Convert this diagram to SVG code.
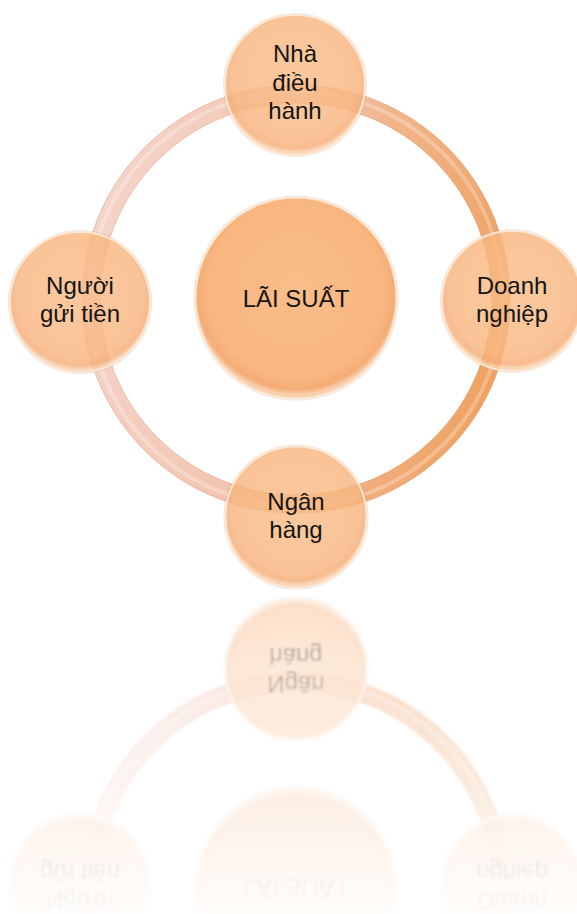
<svg xmlns="http://www.w3.org/2000/svg" xmlns:xlink="http://www.w3.org/1999/xlink" width="577" height="914" viewBox="0 0 577 914">
  <style>
    .lbl { font-family: "Liberation Sans", Arial, sans-serif; font-size: 24px; fill: #141414; text-anchor: middle; }
    .node { fill: url(#nodeFill); fill-opacity: 0.82; stroke: #fde6d0; stroke-width: 2; }
    .cnode { fill: url(#nodeFill); stroke: #fde6d0; stroke-width: 2; }
    .halo { fill: none; stroke: #b89a88; stroke-opacity: 0.22; stroke-width: 1.2; }
  </style>
  <defs>
    <radialGradient id="nodeFill" cx="50%" cy="46%" r="52%">
      <stop offset="0" stop-color="#fabd89"/>
      <stop offset="0.85" stop-color="#f8b680"/>
      <stop offset="0.95" stop-color="#f5ac75"/>
      <stop offset="1" stop-color="#f9cfac"/>
    </radialGradient>
    <linearGradient id="ringGrad" gradientUnits="userSpaceOnUse" x1="100" y1="250" x2="500" y2="340">
      <stop offset="0" stop-color="#f4d3c8"/>
      <stop offset="0.4" stop-color="#f3c6b2"/>
      <stop offset="0.62" stop-color="#f1b58c"/>
      <stop offset="1" stop-color="#efa262"/>
    </linearGradient>
    <linearGradient id="fadeGrad" gradientUnits="userSpaceOnUse" x1="0" y1="593" x2="0" y2="940">
      <stop offset="0" stop-color="#ffffff" stop-opacity="0.5"/>
      <stop offset="1" stop-color="#ffffff" stop-opacity="0"/>
    </linearGradient>
    <mask id="fade" maskUnits="userSpaceOnUse" x="0" y="590" width="577" height="324">
      <rect x="0" y="590" width="577" height="324" fill="url(#fadeGrad)"/>
    </mask>
    <filter id="soft" x="-5%" y="-5%" width="110%" height="110%">
      <feGaussianBlur stdDeviation="0.8"/>
    </filter>
  </defs>

  <g id="diagram">
    <g id="connectors">
      <circle cx="296" cy="299" r="205" fill="none" stroke="url(#ringGrad)" stroke-width="19"/>
      <circle cx="296" cy="299" r="214" fill="none" stroke="#d9a488" stroke-opacity="0.35" stroke-width="1"/>
      <circle cx="296" cy="299" r="196" fill="none" stroke="#d9a488" stroke-opacity="0.35" stroke-width="1"/>
      <circle cx="296" cy="299" r="207" fill="none" stroke="#ffffff" stroke-opacity="0.25" stroke-width="4"/>
    </g>

    <g id="node-center">
      <circle class="halo" cx="296" cy="298" r="102"/>
      <circle class="cnode" cx="296" cy="298" r="100.5"/>
      <text class="lbl" x="296" y="307">LÃI SUẤT</text>
    </g>

    <g id="node-top">
      <circle class="halo" cx="295" cy="85" r="71.5"/>
      <circle class="node" cx="295" cy="85" r="70"/>
      <text class="lbl" x="295" y="62">Nhà</text>
      <text class="lbl" x="295" y="91">điều</text>
      <text class="lbl" x="295" y="119">hành</text>
    </g>

    <g id="node-left">
      <circle class="halo" cx="80" cy="302" r="71.5"/>
      <circle class="node" cx="80" cy="302" r="70"/>
      <text class="lbl" x="80" y="294">Người</text>
      <text class="lbl" x="80" y="322">gửi tiền</text>
    </g>

    <g id="node-right">
      <circle class="halo" cx="512" cy="301" r="71.5"/>
      <circle class="node" cx="512" cy="301" r="70"/>
      <text class="lbl" x="512" y="294">Doanh</text>
      <text class="lbl" x="512" y="322">nghiệp</text>
    </g>

    <g id="node-bottom">
      <circle class="halo" cx="296" cy="517" r="72"/>
      <circle class="node" cx="296" cy="517" r="70.5"/>
      <text class="lbl" x="296" y="510">Ngân</text>
      <text class="lbl" x="296" y="538">hàng</text>
    </g>
  </g>

  <g id="reflection" mask="url(#fade)">
    <g filter="url(#soft)">
      <use xlink:href="#diagram" href="#diagram" transform="translate(0,1186) scale(1,-1)"/>
    </g>
  </g>
</svg>
